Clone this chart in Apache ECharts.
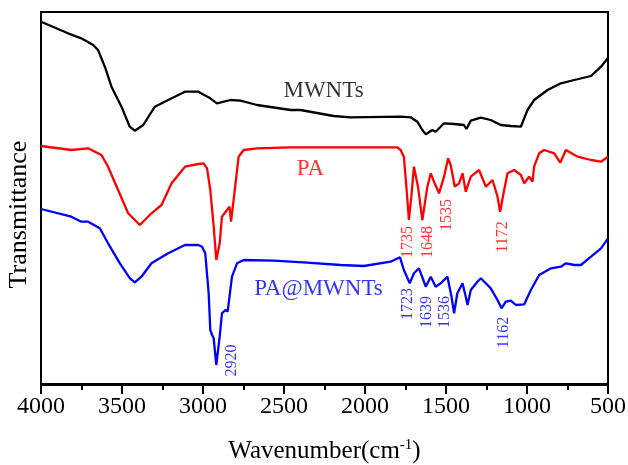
<!DOCTYPE html>
<html>
<head>
<meta charset="utf-8">
<script src="https://cdn.jsdelivr.net/npm/echarts@6/dist/echarts.min.js"></script>
<style>
html,body{margin:0;padding:0;background:#fff;}
#chart{width:628px;height:465px;}
</style>
</head>
<body>
<div id="chart"></div>
<script>
// Wavenumber (cm-1) and transmittance (arbitrary units, offset curves)
const mwntsX = [4000,3833,3751,3678,3648,3606,3565,3503,3452,3421,3369,3297,3215,3111,3029,2955,2914,2831,2769,2666,2460,2398,2194,2089,1780,1718,1677,1646,1625,1584,1564,1512,1450,1389,1374,1347,1285,1224,1162,1100,1038,997,956,873,791,708,605,543,502];
const mwntsY = [362.3,350.7,345.7,339,334,317.3,297.3,277.3,257.3,253.3,259,277.3,284,292.3,292.3,285.7,280.7,284,283.3,279,274,274,268,266.7,267.3,266.7,262.3,254,249.7,254,252.3,260.7,260,259,255,263.3,266.3,264,259,258,257.3,274,284,294,300.7,304,308,317.3,325.7];

const paX = [4000,3813,3709,3627,3586,3524,3462,3390,3318,3256,3194,3111,3029,2996,2975,2955,2934,2918,2897,2883,2852,2836,2827,2811,2780,2749,2666,2460,2151,1800,1780,1760,1743,1729,1714,1698,1673,1646,1615,1594,1570,1543,1512,1487,1471,1446,1419,1398,1378,1347,1296,1254,1213,1182,1166,1145,1120,1079,1038,1017,987,966,956,925,894,832,795,760,687,605,543,500];
const paY = [238,234,235.7,229,217.3,194,170.7,159,170.7,179,200.7,217.3,220,220.7,215.7,194,157.3,124,140.7,167.3,174,177.3,162.3,184,227.3,234,235.7,236.7,236.7,236.7,234,227.3,194,164,187.3,217.3,197.3,164,197.3,210.7,200.7,190.7,207.3,225.7,219,197.3,200.7,210.7,192.3,207.3,214,197.3,204,187.3,172.3,190.7,210.7,214,209,200.7,207.3,202.3,217.3,230.7,234,230.7,221.3,234,227.3,224,222.3,227.3];

const hybridX = [4000,3813,3751,3709,3637,3586,3513,3451,3421,3380,3318,3215,3111,3029,3006,2986,2965,2955,2944,2934,2918,2897,2883,2862,2848,2821,2790,2749,2563,2357,2151,2007,1842,1784,1760,1724,1698,1667,1640,1625,1594,1564,1533,1491,1466,1450,1430,1398,1378,1367,1347,1306,1285,1224,1182,1157,1131,1100,1069,1017,976,925,852,791,760,708,667,605,543,500];
const hybridY = [175,167.3,162.3,162.3,155.7,140.7,120.7,105.7,101.7,107.3,120.7,130.7,139,139,137.3,130.7,90.7,54,49,45.7,19,47.3,70.7,74,72.3,107.3,120.7,124,123.3,121.3,119,118,122.3,126.7,114,100.7,110.7,115.7,104,97.3,107.3,97.3,100.7,107.3,87.3,70.7,90.7,100.7,87.3,79,94,102.3,105.7,95.7,84,75.7,82.3,83.3,79,79.7,94,109,115.7,117.3,120.7,119,119,127.3,135.7,145.7];

// Peak annotations (label text, wavenumber, transmittance of label centre)
const paPeakText = ['1735','1648','1535','1172'];
const paPeakX = [1734,1615,1497,1151];
const paPeakY = [142,142,169,147];
const hybridPeakText = ['2920','1723','1639','1536','1162'];
const hybridPeakX = [2825,1734,1619,1508,1146];
const hybridPeakY = [23.5,80,72,72,51.5];

// Curve name labels
const curveNames = ['MWNTs','PA','PA@MWNTs'];
const curveNameX = [2256,2337,2287];
const curveNameY = [293,215,95];
const curveColors = ['#000000','#ff0000','#0000ff'];

const FONT = '"Liberation Serif", "Times New Roman", serif';

function zip(xs, ys){ return xs.map((x,i)=>[x, ys[i]]); }

function peakSeries(texts, xs, ys, color){
  return {
    type:'scatter', symbolSize:1, itemStyle:{color:'rgba(0,0,0,0)'},
    silent:true, z:5,
    data: xs.map((x,i)=>({value:[x, ys[i]], name:texts[i]})),
    label:{show:true, position:'inside', rotate:90, formatter:p=>p.name,
      color:color, fontFamily:FONT, fontSize:16, align:'center', verticalAlign:'middle'}
  };
}

const chart = echarts.init(document.getElementById('chart'), null, {renderer:'canvas'});
const lineCommon = {type:'line', showSymbol:false, symbol:'none', smooth:false, animation:false};

chart.setOption({
  animation:false,
  backgroundColor:'#fff',
  grid:{left:41, right:20, top:12, bottom:80, show:true, borderColor:'#000', borderWidth:2,
    backgroundColor:'transparent', containLabel:false, outerBoundsMode:'none'},
  xAxis:{
    type:'value', inverse:true, min:500, max:4000, interval:500,
    name:'{a|Wavenumber(cm}{s|-1}{a|)}',
    nameLocation:'middle', nameGap:53,
    nameTextStyle:{fontFamily:FONT, color:'#000',
      rich:{a:{fontFamily:FONT, fontSize:25, color:'#000'},
            s:{fontFamily:FONT, fontSize:15, color:'#000', verticalAlign:'top', padding:[0,0,12,0]}}},
    axisLine:{show:true, lineStyle:{color:'#000', width:2}},
    axisTick:{show:true, length:10, inside:false, lineStyle:{color:'#000', width:2}},
    minorTick:{show:true, splitNumber:2, length:6, lineStyle:{color:'#000', width:2}},
    splitLine:{show:false},
    axisLabel:{fontFamily:FONT, fontSize:24, color:'#000', margin:10,
      formatter: v => String(v), showMinLabel:true, showMaxLabel:true}
  },
  yAxis:{
    type:'value', min:-1, max:372,
    name:'Transmittance', nameLocation:'middle', nameGap:9,
    nameTextStyle:{fontFamily:FONT, fontSize:26, color:'#000', padding:[0,32,0,0]},
    axisLine:{show:true, lineStyle:{color:'#000', width:2}},
    axisTick:{show:false}, axisLabel:{show:false}, splitLine:{show:false}
  },
  series:[
    Object.assign({}, lineCommon, {name:'MWNTs', data:zip(mwntsX, mwntsY), lineStyle:{color:curveColors[0], width:2.3}}),
    Object.assign({}, lineCommon, {name:'PA', data:zip(paX, paY), lineStyle:{color:curveColors[1], width:2.3}}),
    Object.assign({}, lineCommon, {name:'PA@MWNTs', data:zip(hybridX, hybridY), lineStyle:{color:curveColors[2], width:2.3}}),
    peakSeries(paPeakText, paPeakX, paPeakY, curveColors[1]),
    peakSeries(hybridPeakText, hybridPeakX, hybridPeakY, curveColors[2]),
    {
      type:'scatter', symbolSize:1, itemStyle:{color:'rgba(0,0,0,0)'}, silent:true, z:5,
      data: curveNames.map((n,i)=>({value:[curveNameX[i], curveNameY[i]], name:n,
        label:{color:curveColors[i]}})),
      label:{show:true, position:'inside', formatter:p=>p.name, fontFamily:FONT, fontSize:23,
        align:'center', verticalAlign:'middle'}
    }
  ]
});
</script>
</body>
</html>
